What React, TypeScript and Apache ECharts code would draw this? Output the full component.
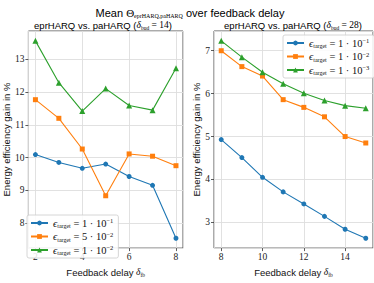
import React, { useEffect, useRef } from "react";
import * as echarts from "echarts";

const xLeft = [2, 3, 4, 5, 6, 7, 8];
const leftE1e1 = [10.09, 9.85, 9.67, 9.8, 9.42, 9.15, 7.53];
const leftE5e2 = [11.77, 11.2, 10.26, 8.83, 10.11, 10.04, 9.75];
const leftE1e2 = [13.57, 12.29, 11.42, 12.11, 11.59, 11.45, 12.73];

const xRight = [8, 9, 10, 11, 12, 13, 14, 15];
const rightE1e1 = [4.93, 4.51, 4.05, 3.71, 3.43, 3.14, 2.84, 2.63];
const rightE1e2 = [7.0, 6.63, 6.41, 5.86, 5.68, 5.46, 5.0, 4.85];
const rightE1e3 = [7.23, 6.85, 6.5, 6.23, 6.01, 5.84, 5.72, 5.66];

const leftLegend = [
  { key: "L1", mant: "1", exp: "−1" },
  { key: "L2", mant: "5", exp: "−2" },
  { key: "L3", mant: "1", exp: "−2" },
];
const rightLegend = [
  { key: "R1", mant: "1", exp: "−1" },
  { key: "R2", mant: "1", exp: "−2" },
  { key: "R3", mant: "1", exp: "−3" },
];

const colors = ["#1f77b4", "#ff7f0e", "#2ca02c"];
const symbols = ["circle", "rect", "triangle"];

const SANS = "Liberation Sans, Arial, sans-serif";
const SERIF = "Liberation Serif, DejaVu Serif, serif";

const rich: any = {
  t: { fontFamily: SANS, fontSize: 9.5, color: "#111", lineHeight: 12 },
  m: { fontFamily: SERIF, fontSize: 9.5, color: "#111", fontStyle: "italic", lineHeight: 12 },
  n: { fontFamily: SERIF, fontSize: 9.5, color: "#111", lineHeight: 12 },
  sub: { fontFamily: SERIF, fontSize: 5.5, color: "#111", verticalAlign: "bottom", lineHeight: 12 },
  sup: { fontFamily: SERIF, fontSize: 5.5, color: "#111", verticalAlign: "top", lineHeight: 12 },
};

const legendRich: any = {
  m: { ...rich.m, fontSize: 10.5, lineHeight: 12 },
  n: { ...rich.n, fontSize: 10.5, lineHeight: 12 },
  sub: { ...rich.sub, fontSize: 6, lineHeight: 12 },
  sup: { ...rich.sup, fontSize: 6.5, lineHeight: 12 },
};

const legendText = (items: any[]) => (name: string) => {
  const it = items.find((d) => d.key === name);
  return `{m|ϵ}{sub|target}{n| = ${it.mant} · 10}{sup|${it.exp}}`;
};

const padMin = (v: any) => v.min - 0.05 * (v.max - v.min);
const padMax = (v: any) => v.max + 0.05 * (v.max - v.min);

function makeSeries(name: string, xs: number[], ys: number[], idx: number, ax: number) {
  return {
    name,
    type: "line",
    xAxisIndex: ax,
    yAxisIndex: ax,
    data: xs.map((x, i) => [x, ys[i]]),
    symbol: symbols[idx],
    symbolSize: idx === 2 ? 6 : 5,
    showSymbol: true,
    lineStyle: { color: colors[idx], width: 1.1 },
    itemStyle: { color: colors[idx] },
    emphasis: { disabled: true },
  };
}

const axisCommon = {
  type: "value",
  axisLine: { show: false },
  axisTick: { show: true, length: 3, lineStyle: { color: "#333", width: 0.8 } },
  axisLabel: { fontFamily: SERIF, fontSize: 9.5, color: "#222", showMinLabel: false, showMaxLabel: false, margin: 4 },
  splitLine: { show: true, lineStyle: { color: "#dedede", width: 0.9 } },
};

const legendCommon = {
  orient: "vertical",
  itemWidth: 17,
  itemHeight: 6,
  itemGap: 1.5,
  padding: [2, 5, 2, 3],
  borderColor: "#ccc",
  borderWidth: 0.8,
  borderRadius: 2,
  backgroundColor: "rgba(255,255,255,0.85)",
  textStyle: { rich: legendRich },
  selectedMode: false,
};

export default function App() {
  const ref = useRef<HTMLDivElement>(null);
  useEffect(() => {
    const chart = echarts.init(ref.current!, null, { renderer: "svg" });
    const xName = "{t|Feedback delay }{m|δ}{sub|fb}";
    const yName = "Energy efficiency gain in %";
    chart.setOption({
      animation: false,
      grid: [
        { left: 23, right: 191, top: 31, bottom: 20, show: true, borderColor: "#444", borderWidth: 0.9 },
        { left: 214, right: 1, top: 31, bottom: 20, show: true, borderColor: "#444", borderWidth: 0.9 },
      ],
      xAxis: [
        {
          ...axisCommon, gridIndex: 0, min: padMin, max: padMax, splitNumber: 3,
          name: xName, nameLocation: "middle", nameGap: 13, nameTextStyle: { rich },
        },
        {
          ...axisCommon, gridIndex: 1, min: padMin, max: padMax, splitNumber: 4,
          name: xName, nameLocation: "middle", nameGap: 13, nameTextStyle: { rich },
        },
      ],
      yAxis: [
        {
          ...axisCommon, gridIndex: 0, min: padMin, max: padMax, splitNumber: 6,
          name: yName, nameLocation: "middle", nameGap: 11,
          nameTextStyle: { fontFamily: SANS, fontSize: 9.5, color: "#111" },
        },
        {
          ...axisCommon, gridIndex: 1, min: padMin, max: padMax, splitNumber: 5,
          name: yName, nameLocation: "middle", nameGap: 11,
          nameTextStyle: { fontFamily: SANS, fontSize: 9.5, color: "#111" },
        },
      ],
      legend: [
        {
          ...legendCommon,
          data: leftLegend.map((d) => d.key),
          left: 27,
          top: 215,
          formatter: legendText(leftLegend),
        },
        {
          ...legendCommon,
          data: rightLegend.map((d) => d.key),
          left: 283,
          top: 35,
          formatter: legendText(rightLegend),
        },
      ],
      graphic: [
        {
          type: "text", x: 190, y: 13,
          style: {
            text: "{t|Mean }{n|Θ}{sub|eprHARQ,paHARQ}{t| over feedback delay}",
            rich: { ...rich, t: { ...rich.t, fontSize: 11 }, n: { ...rich.n, fontSize: 11 }, sub: { ...rich.sub, fontSize: 6 } },
            align: "center", verticalAlign: "middle",
          },
        },
        {
          type: "text", x: 103, y: 25,
          style: {
            text: "{t|eprHARQ vs. paHARQ (}{m|δ}{sub|bud}{n| = 14}{t|)}",
            rich, align: "center", verticalAlign: "middle",
          },
        },
        {
          type: "text", x: 293, y: 25,
          style: {
            text: "{t|eprHARQ vs. paHARQ (}{m|δ}{sub|bud}{n| = 28}{t|)}",
            rich, align: "center", verticalAlign: "middle",
          },
        },
      ],
      series: [
        makeSeries("L1", xLeft, leftE1e1, 0, 0),
        makeSeries("L2", xLeft, leftE5e2, 1, 0),
        makeSeries("L3", xLeft, leftE1e2, 2, 0),
        makeSeries("R1", xRight, rightE1e1, 0, 1),
        makeSeries("R2", xRight, rightE1e2, 1, 1),
        makeSeries("R3", xRight, rightE1e3, 2, 1),
      ],
    });
    return () => chart.dispose();
  }, []);
  return (
    <div
      ref={ref}
      style={{ position: "fixed", left: 0, top: 0, width: 374, height: 283, background: "#fff" }}
    />
  );
}
